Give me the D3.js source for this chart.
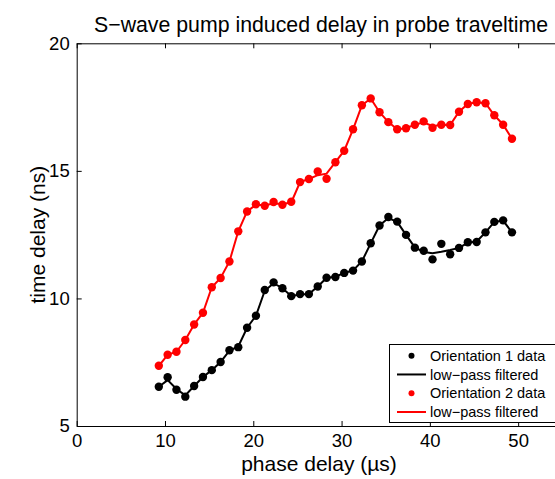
<html>
<script src='https://d3js.org/d3.v7.min.js'></script>
<style>
body { margin: 0; background: #fff; }
text { font-family: "Liberation Sans", Arial, Helvetica, sans-serif; fill: #000; }
.axis path, .axis line { stroke: #000; stroke-width: 1; }
</style>
<body>
<svg width=555 height=479></svg>
<script>
// phase delay (us) of each sample
var phase = [9.3, 10.3, 11.3, 12.3, 13.3, 14.3, 15.3, 16.3, 17.3, 18.3,
             19.3, 20.3, 21.3, 22.3, 23.3, 24.3, 25.3, 26.3, 27.3, 28.3,
             29.3, 30.3, 31.3, 32.3, 33.3, 34.3, 35.3, 36.3, 37.3, 38.3,
             39.3, 40.3, 41.3, 42.3, 43.3, 44.3, 45.3, 46.3, 47.3, 48.3, 49.3];

// orientation 1 (black)
var orient1 = [6.54, 6.91, 6.42, 6.15, 6.57, 6.92, 7.19, 7.51, 7.97, 8.09,
               8.85, 9.32, 10.33, 10.63, 10.40, 10.09, 10.17, 10.17, 10.47, 10.81,
               10.84, 11.00, 11.09, 11.45, 12.16, 12.86, 13.19, 13.01, 12.49, 11.99,
               11.87, 11.53, 12.14, 11.73, 11.98, 12.20, 12.21, 12.59, 13.00, 13.06, 12.59];
var filt1 = [6.54, 6.80, 6.45, 6.20, 6.57, 6.92, 7.19, 7.51, 7.95, 8.12,
             8.85, 9.32, 10.30, 10.60, 10.40, 10.10, 10.15, 10.17, 10.47, 10.80,
             10.85, 11.00, 11.10, 11.45, 12.16, 12.86, 13.15, 13.00, 12.49, 12.00,
             11.82, 11.77, 11.83, 11.90, 11.98, 12.18, 12.23, 12.59, 13.00, 13.05, 12.59];

// orientation 2 (red)
var orient2 = [7.36, 7.79, 7.91, 8.37, 8.98, 9.44, 10.44, 10.80, 11.45, 12.63,
               13.41, 13.69, 13.63, 13.78, 13.67, 13.79, 14.56, 14.68, 14.98, 14.69,
               15.34, 15.79, 16.63, 17.57, 17.84, 17.30, 16.91, 16.63, 16.67, 16.81,
               16.94, 16.69, 16.81, 16.80, 17.32, 17.62, 17.69, 17.65, 17.18, 16.81, 16.26];
var filt2 = [7.36, 7.79, 7.91, 8.37, 8.98, 9.44, 10.44, 10.80, 11.45, 12.63,
             13.41, 13.67, 13.65, 13.72, 13.70, 13.76, 14.56, 14.68, 14.83, 14.89,
             15.34, 15.79, 16.63, 17.57, 17.84, 17.30, 16.91, 16.63, 16.67, 16.81,
             16.90, 16.75, 16.81, 16.80, 17.32, 17.62, 17.69, 17.65, 17.18, 16.81, 16.26];

var xTicks = [0, 10, 20, 30, 40, 50];
var yTicks = [5, 10, 15, 20];

var legendLabels = ["Orientation 1 data", "low\u2212pass filtered",
                    "Orientation 2 data", "low\u2212pass filtered"];

var svg = d3.select("svg");
svg.append("rect").attr("width", 555).attr("height", 479).attr("fill", "#fff");

var plotLeft = 76.7, plotRight = 562.3, plotTop = 43.3, plotBottom = 426;

var x = d3.scaleLinear().domain([0, 55]).range([plotLeft, plotRight]);
var y = d3.scaleLinear().domain([5, 20]).range([plotBottom, plotTop]);

// axes, MATLAB style ticks pointing inward
svg.append("g").attr("class", "axis")
   .attr("transform", "translate(0," + plotBottom + ")")
   .call(d3.axisBottom(x).tickValues(xTicks).tickSizeInner(-5).tickSizeOuter(0).tickPadding(8))
   .call(function(g) { g.selectAll("text").attr("font-size", 18.5); });

svg.append("g").attr("class", "axis")
   .attr("transform", "translate(0," + plotTop + ")")
   .call(d3.axisTop(x).tickValues(xTicks).tickSizeInner(-5).tickSizeOuter(0).tickFormat(""));

svg.append("g").attr("class", "axis")
   .attr("transform", "translate(" + plotLeft + ",0)")
   .call(d3.axisLeft(y).tickValues(yTicks).tickSizeInner(-5).tickSizeOuter(0).tickPadding(7))
   .call(function(g) { g.selectAll("text").attr("font-size", 18.5); });

svg.append("g").attr("class", "axis")
   .attr("transform", "translate(" + plotRight + ",0)")
   .call(d3.axisRight(y).tickValues(yTicks).tickSizeInner(-5).tickSizeOuter(0).tickFormat(""));

svg.selectAll(".axis text").attr("font-family", "Liberation Sans, Arial, sans-serif");

// lines
var line = function(vals) {
  return d3.line().x(function(d, i) { return x(phase[i]); })
                  .y(function(d) { return y(d); })(vals);
};

svg.append("path").attr("d", line(filt1)).attr("fill", "none")
   .attr("stroke", "#000").attr("stroke-width", 2);
svg.append("path").attr("d", line(filt2)).attr("fill", "none")
   .attr("stroke", "#ff0000").attr("stroke-width", 2);

svg.selectAll(".p1").data(orient1).enter().append("circle")
   .attr("cx", function(d, i) { return x(phase[i]); })
   .attr("cy", function(d) { return y(d); })
   .attr("r", 4.2).attr("fill", "#000");

svg.selectAll(".p2").data(orient2).enter().append("circle")
   .attr("cx", function(d, i) { return x(phase[i]); })
   .attr("cy", function(d) { return y(d); })
   .attr("r", 4.2).attr("fill", "#ff0000");

// labels
svg.append("text").attr("x", 321).attr("y", 32).attr("text-anchor", "middle")
   .attr("font-size", 21.3).text("S\u2212wave pump induced delay in probe traveltime");

svg.append("text").attr("x", 319).attr("y", 471).attr("text-anchor", "middle")
   .attr("font-size", 21).text("phase delay (\u00b5s)");

svg.append("text").attr("transform", "translate(45," + ((plotTop + plotBottom) / 2) + ") rotate(-90)")
   .attr("text-anchor", "middle").attr("font-size", 21).text("time delay (ns)");

// legend
var lg = svg.append("g");
lg.append("rect").attr("x", 389.5).attr("y", 344.5).attr("width", 170).attr("height", 78)
  .attr("fill", "#fff").attr("stroke", "#000").attr("stroke-width", 1);

var rowY = d3.scalePoint().domain(d3.range(legendLabels.length)).range([355.7, 412]);
var colors = ["#000", "#000", "#ff0000", "#ff0000"];

legendLabels.forEach(function(lab, i) {
  var yy = rowY(i);
  if (i % 2 === 0) {
    lg.append("circle").attr("cx", 411.5).attr("cy", yy).attr("r", 3).attr("fill", colors[i]);
  } else {
    lg.append("line").attr("x1", 397).attr("x2", 426).attr("y1", yy).attr("y2", yy)
      .attr("stroke", colors[i]).attr("stroke-width", 2);
  }
  lg.append("text").attr("x", 430).attr("y", yy).attr("dy", "0.35em")
    .attr("font-size", 14.5).text(lab);
});
</script>
</body>
</html>
